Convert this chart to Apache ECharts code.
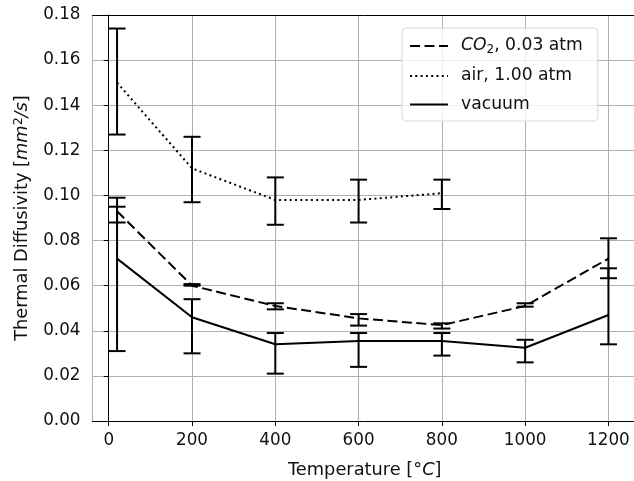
<!DOCTYPE html>
<html>
<head>
<meta charset="utf-8">
<script src="https://cdn.jsdelivr.net/npm/echarts@6/dist/echarts.min.js"></script>
<style>html,body{margin:0;padding:0;background:#fff}#chart{width:634px;height:481px}</style>
</head>
<body>
<div id="chart"></div>
<script>
// ---- data ----
var tempsAir = [20, 200, 400, 600, 800];
var tempsAll = [20, 200, 400, 600, 800, 1000, 1200];

var co2Values = [0.093, 0.060, 0.051, 0.0455, 0.0425, 0.051, 0.072];
var co2Low    = [0.088, 0.0600, 0.0495, 0.0423, 0.0410, 0.0507, 0.0633];
var co2High   = [0.095, 0.0607, 0.0522, 0.0474, 0.0433, 0.0522, 0.0677];

var airValues = [0.150, 0.112, 0.098, 0.098, 0.101];
var airLow    = [0.127, 0.097, 0.087, 0.088, 0.094];
var airHigh   = [0.174, 0.126, 0.108, 0.107, 0.107];

var vacValues = [0.072, 0.046, 0.034, 0.0355, 0.0355, 0.0325, 0.047];
var vacLow    = [0.031, 0.030, 0.021, 0.024, 0.029, 0.026, 0.034];
var vacHigh   = [0.099, 0.054, 0.039, 0.039, 0.039, 0.036, 0.081];

var xTickLabels = [0, 200, 400, 600, 800, 1000, 1200];

// ---- build ----
function pts(xs, ys) { return xs.map(function (x, i) { return [x, ys[i]]; }); }
function bars(xs, lo, hi) { return xs.map(function (x, i) { return [x, lo[i], hi[i]]; }); }

var FONT = 'DejaVu Sans';
var TXT = '#111';
var TICKFS = 16.8, LEGFS = 17.2, NAMEFS = 17.8;

function errRender(params, api) {
  var x = api.value(0), lo = api.value(1), hi = api.value(2);
  var p1 = api.coord([x, lo]), p2 = api.coord([x, hi]);
  var hw = 8.5;
  var st = { stroke: '#000', lineWidth: 2, fill: null };
  return {
    type: 'group',
    children: [
      { type: 'line', shape: { x1: p1[0], y1: p1[1], x2: p2[0], y2: p2[1] }, style: st },
      { type: 'line', shape: { x1: p1[0] - hw, y1: p1[1], x2: p1[0] + hw, y2: p1[1] }, style: st },
      { type: 'line', shape: { x1: p2[0] - hw, y1: p2[1], x2: p2[0] + hw, y2: p2[1] }, style: st }
    ]
  };
}

var legendNames = {
  co2: '{it|CO}{sub|2}{n|, 0.03 atm}',
  air: '{n|air, 1.00 atm}',
  vac: '{n|vacuum}'
};

var chart = echarts.init(document.getElementById('chart'), null, { renderer: 'canvas' });
chart.setOption({
  animation: false,
  backgroundColor: '#fff',
  textStyle: { fontFamily: FONT },
  grid: { left: 92.5, right: -3, top: 15, bottom: 60, containLabel: false, outerBoundsMode: 'none' },
  legend: {
    data: ['co2', 'air', 'vac'],
    orient: 'vertical',
    left: 402, top: 28,
    itemWidth: 38, itemHeight: 14, itemGap: 11.5,
    padding: [9, 15, 8, 7],
    borderColor: '#d6d6d6', borderWidth: 1, borderRadius: 4,
    backgroundColor: 'rgba(255,255,255,0.8)',
    itemStyle: { color: 'rgba(0,0,0,0)', borderWidth: 0, opacity: 0 },
    formatter: function (n) { return legendNames[n]; },
    textStyle: {
      fontFamily: FONT, fontSize: LEGFS, color: TXT, padding: [0, 0, 0, 8],
      rich: {
        n: { fontFamily: FONT, fontSize: LEGFS, color: TXT, lineHeight: 20 },
        it: { fontFamily: FONT, fontSize: LEGFS, color: TXT, fontStyle: 'italic', lineHeight: 20 },
        sub: { fontFamily: FONT, fontSize: 12, color: TXT, verticalAlign: 'bottom', lineHeight: 20, padding: [7, 0, 0, 0] }
      }
    }
  },
  xAxis: [{
    type: 'value', min: -39, max: 1268.6, splitNumber: 6,
    name: '{n|Temperature [°}{it|C}{n|]}',
    nameLocation: 'middle', nameGap: 40,
    nameTextStyle: {
      fontFamily: FONT, fontSize: NAMEFS, color: TXT,
      rich: {
        n: { fontFamily: FONT, fontSize: NAMEFS, color: TXT },
        it: { fontFamily: FONT, fontSize: NAMEFS, color: TXT, fontStyle: 'italic' }
      }
    },
    axisLine: { show: true, onZero: false, lineStyle: { color: '#000', width: 1 } },
    axisTick: { show: true, length: 5, lineStyle: { color: '#000', width: 1 } },
    axisLabel: {
      showMinLabel: false, showMaxLabel: false, fontFamily: FONT, fontSize: TICKFS, color: TXT, margin: 11,
      formatter: function (v) { return xTickLabels.indexOf(v) >= 0 ? String(v) : ''; }
    },
    splitLine: { show: true, lineStyle: { color: '#b0b0b0', width: 1 } }
  }, {
    type: 'value', position: 'top', min: -39, max: 1268.6,
    axisLine: { show: true, onZero: false, lineStyle: { color: '#000', width: 1 } },
    axisTick: { show: false }, axisLabel: { show: false }, splitLine: { show: false }
  }],
  yAxis: {
    type: 'value', min: 0, max: 0.18, interval: 0.02,
    name: '{n|Thermal Diffusivity [}{it|mm}{sup|2}{it|/s}{n|]}',
    nameLocation: 'middle', nameGap: 59, nameRotate: 90,
    nameTextStyle: {
      fontFamily: FONT, fontSize: NAMEFS, color: TXT,
      rich: {
        n: { fontFamily: FONT, fontSize: NAMEFS, color: TXT, lineHeight: 20 },
        it: { fontFamily: FONT, fontSize: NAMEFS, color: TXT, fontStyle: 'italic', lineHeight: 20 },
        sup: { fontFamily: FONT, fontSize: 12.5, color: TXT, verticalAlign: 'top', lineHeight: 20, padding: [0, 0, 7, 0] }
      }
    },
    axisLine: { show: true, lineStyle: { color: '#000', width: 1 } },
    axisTick: { show: true, length: 5, lineStyle: { color: '#000', width: 1 } },
    axisLabel: { fontFamily: FONT, fontSize: TICKFS, color: TXT, margin: 12, formatter: function (v) { return v.toFixed(2); } },
    splitLine: { show: true, lineStyle: { color: '#b0b0b0', width: 1 } }
  },
  series: [
    { name: 'co2', type: 'line', data: pts(tempsAll, co2Values), symbol: 'none', showSymbol: false,
      lineStyle: { color: '#000', width: 2, type: [10, 4.5], cap: 'butt' }, itemStyle: { color: '#000' }, z: 3 },
    { name: 'air', type: 'line', data: pts(tempsAir, airValues), symbol: 'none', showSymbol: false,
      lineStyle: { color: '#000', width: 2, type: [2, 3.3], cap: 'butt' }, itemStyle: { color: '#000' }, z: 3 },
    { name: 'vac', type: 'line', data: pts(tempsAll, vacValues), symbol: 'none', showSymbol: false,
      lineStyle: { color: '#000', width: 2, type: 'solid' }, itemStyle: { color: '#000' }, z: 3 },
    { name: 'co2err', type: 'custom', renderItem: errRender, data: bars(tempsAll, co2Low, co2High), encode: { x: 0, y: [1, 2] }, z: 4 },
    { name: 'airerr', type: 'custom', renderItem: errRender, data: bars(tempsAir, airLow, airHigh), encode: { x: 0, y: [1, 2] }, z: 4 },
    { name: 'vacerr', type: 'custom', renderItem: errRender, data: bars(tempsAll, vacLow, vacHigh), encode: { x: 0, y: [1, 2] }, z: 4 }
  ]
});
</script>
</body>
</html>
